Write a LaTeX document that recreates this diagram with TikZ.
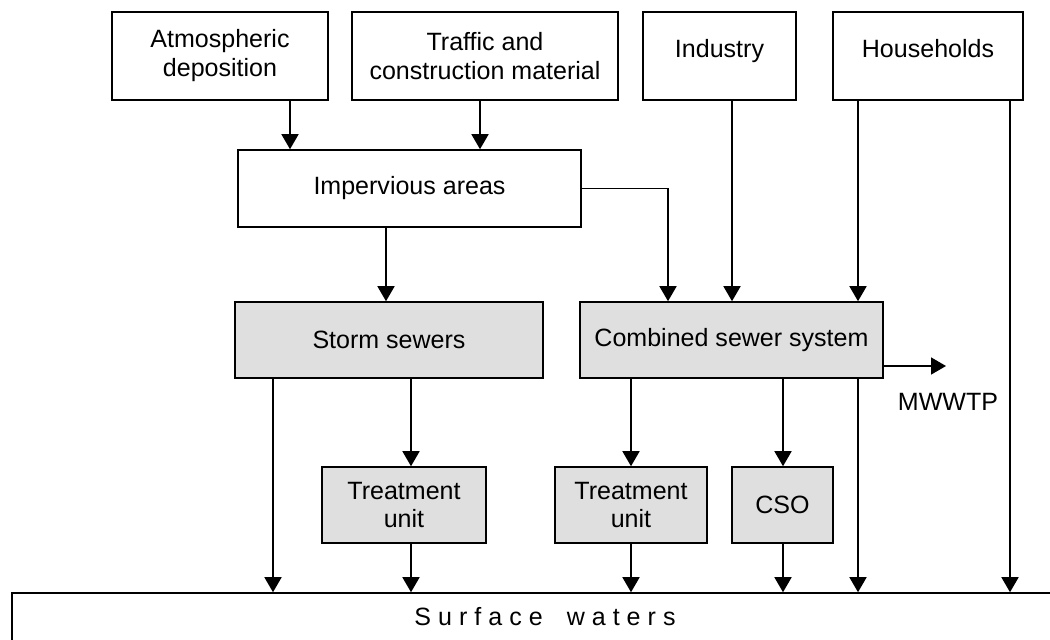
\documentclass[tikz,border=0pt]{standalone}
\usepackage{fontspec}
\setmainfont{Liberation Sans}
\usetikzlibrary{arrows.meta}

\tikzset{
  box/.style={draw=black, line width=1.1pt, fill=white, align=center, inner sep=0pt},
  sbox/.style={box, fill=gray!25},
  arr/.style={line width=1.1pt, -{Triangle[width=0.425cm,length=0.375cm]}},
  ln/.style={line width=1.1pt}
}

\begin{document}
\begin{tikzpicture}[x=0.025cm, y=-0.025cm,
  every node/.append style={font=\fontsize{17.8pt}{20.6pt}\selectfont}]
\useasboundingbox (0,0) rectangle (1050,639);
% sources
\node[box, minimum width=5.4cm, minimum height=2.2cm] (atm) at (220,56) {Atmospheric\\deposition};
\node[box, minimum width=6.65cm, minimum height=2.2cm] (traffic) at (485,56) {Traffic and\\construction material};
\node[box, minimum width=3.825cm, minimum height=2.2cm, text depth=0.4cm] (industry) at (719.5,56) {Industry};
\node[box, minimum width=4.75cm, minimum height=2.2cm, text depth=0.4cm] (households) at (928,56) {Households};
\node[box, minimum width=8.575cm, minimum height=1.925cm] (imperv) at (409.5,188.5) {Impervious areas};
% sewers
\node[sbox, minimum width=7.7cm, minimum height=1.9cm] (storm) at (389,340) {Storm sewers};
\node[sbox, minimum width=7.575cm, minimum height=1.9cm] (comb) at (731.5,340) {Combined sewer system};
\node[sbox, minimum width=4.1cm, minimum height=1.9cm] (treatA) at (404,505) {Treatment\\unit};
\node[sbox, minimum width=3.8cm, minimum height=1.9cm] (treatB) at (631,505) {Treatment\\unit};
\node[sbox, minimum width=2.525cm, minimum height=1.9cm] (cso) at (782.5,505) {CSO};
\node[box, minimum width=26.65cm, minimum height=1.2cm] (surface) at (545,617)
  {\addfontfeature{LetterSpace=28}Surface\hspace{0.6cm}waters};
\coordinate (out) at (946,366);
\node (mwwtp) at (948,402) {MWWTP};
% connectors
\draw[arr] (atm.south -| 290,0) -- (imperv.north -| 290,0);
\draw[arr] (traffic.south -| 480,0) -- (imperv.north -| 480,0);
\draw[arr] (imperv.east) -| (comb.north -| 668,0);
\draw[arr] (imperv.south -| 386,0) -- (storm.north -| 386,0);
\draw[arr] (industry.south -| 732,0) -- (comb.north -| 732,0);
\draw[arr] (households.south -| 858,0) -- (comb.north -| 858,0);
\draw[arr] (households.south -| 1010,0) -- (surface.north -| 1010,0);
\draw[arr] (comb.east |- out) -- (out);
\draw[arr] (storm.south -| 273,0) -- (surface.north -| 273,0);
\draw[arr] (storm.south -| 411,0) -- (treatA.north -| 411,0);
\draw[arr] (treatA.south -| 411,0) -- (surface.north -| 411,0);
\draw[arr] (comb.south -| 631,0) -- (treatB.north -| 631,0);
\draw[arr] (treatB.south -| 631,0) -- (surface.north -| 631,0);
\draw[arr] (comb.south -| 783,0) -- (cso.north -| 783,0);
\draw[arr] (cso.south -| 783,0) -- (surface.north -| 783,0);
\draw[arr] (comb.south -| 858,0) -- (surface.north -| 858,0);
\end{tikzpicture}
\end{document}
